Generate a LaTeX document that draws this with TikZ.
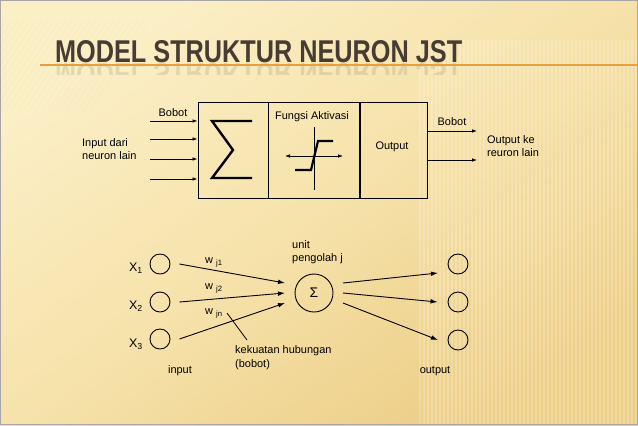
\documentclass[tikz,border=0pt]{standalone}
\usepackage{fontspec}
\setmainfont{Liberation Sans}
\usetikzlibrary{arrows.meta}
\definecolor{bgUL}{HTML}{FBEFC6}
\definecolor{bgMID}{HTML}{F6E2AA}
\definecolor{bgLR}{HTML}{ECCD86}
\definecolor{titlecol}{HTML}{463C33}
\definecolor{rulecol}{HTML}{E6A040}
\tikzset{
  lbl/.style={inner sep=0pt, font=\fontsize{11}{13.5}\selectfont, align=left},
  xlbl/.style={inner sep=0pt, font=\fontsize{12.5}{14}\selectfont},
  blk/.style={draw, line width=1bp, minimum height=96bp, inner sep=0pt},
  arr/.style={line width=0.8bp, -{Latex[length=5bp,width=3.6bp]}},
  arrb/.style={line width=0.9bp, -{Latex[length=7bp,width=4.6bp]}},
  neuron/.style={circle, draw, line width=0.9bp, minimum size=20bp, inner sep=0pt},
  glyph/.style={line width=2.4bp, line join=miter},
}
\begin{document}
\begin{tikzpicture}[x=1bp,y=-1bp]
\useasboundingbox (0,0) rectangle (638,425);
% background
\shade[top color=bgUL, bottom color=bgLR, middle color=bgMID, shading angle=35] (0,0) rectangle (638,425);
\foreach \x in {420,424,...,636}{
  \draw[white, opacity=0.22, line width=1.2bp] (\x,40) -- (\x,425);
}
\foreach \x in {-60,-54,...,90}{
  \draw[brown!40, opacity=0.12, line width=0.8bp] (\x,110) -- (\x+60,20);
}
\draw[gray!70, line width=1bp] (0.5,0.5) rectangle (637.5,424.5);
% title
\begin{scope}
  \clip (50,63) rectangle (470,74);
  \node[anchor=base west, inner sep=0pt, text=titlecol, opacity=0.13] (titlerefl) at (55,63)
    {\scalebox{1}[-1]{\resizebox{407bp}{22bp}{\bfseries MODEL STRUKTUR NEURON JST}}};
\end{scope}
\draw[rulecol, line width=1.4bp] (40,65) -- (638,65);
\node[anchor=base west, inner sep=0pt, text=titlecol] (title) at (55,62)
  {\resizebox{407bp}{22bp}{\bfseries MODEL STRUKTUR NEURON JST}};
% ---- block diagram ----
\node[blk, minimum width=70bp] (sumbox) at (233,150) {};
\node[blk, minimum width=92bp] (actbox) at (314,150) {};
\node[blk, minimum width=67bp] (outbox) at (393.5,150) {};
\draw[line width=1.8bp] (outbox.north west) -- (outbox.south west);
% sigma glyph
\draw[glyph] (252,121) -- (212,121) -- (233,150) -- (212,178) -- (252,178);
% activation glyph
\draw[line width=0.8bp] (314,127) -- (314,190);
\draw[line width=0.8bp, {Latex[length=5bp,width=3.6bp]}-{Latex[length=5bp,width=3.6bp]}] (285,156) -- (343,156);
\draw[line width=2.2bp] (295,170) -- (311,170) -- (318,141) -- (333,141);
% input arrows
\coordinate (i1) at (150,121);
\coordinate (i2) at (150,139);
\coordinate (i3) at (150,159);
\coordinate (i4) at (150,179);
\foreach \c in {i1,i2,i3,i4}{\draw[arr] (\c) -- (sumbox.west |- \c);}
% output arrows
\coordinate (o1) at (477,131);
\coordinate (o2) at (477,160);
\draw[arr] (outbox.east |- o1) -- (o1);
\draw[arr] (outbox.east |- o2) -- (o2);
% labels
\node[lbl] (bobot1) at (173,113) {Bobot};
\node[lbl] (fungsi) at (312,117) {Fungsi Aktivasi};
\node[lbl, anchor=west] (inlain) at (82,149) {Input dari\\neuron lain};
\node[lbl] (outlbl) at (392,147) {Output};
\node[lbl] (bobot2) at (452,122) {Bobot};
\node[lbl, anchor=west] (outlain) at (487,146) {Output ke\\reuron lain};
% ---- network ----
\node[neuron] (in1) at (160,264) {};
\node[neuron] (in2) at (160,302) {};
\node[neuron] (in3) at (160,339) {};
\node[circle, draw, line width=0.9bp, minimum size=38bp, inner sep=0pt,
      font=\fontsize{14}{14}\selectfont] (sum) at (314,293) {Σ};
\node[neuron] (out1) at (458,264) {};
\node[neuron] (out2) at (458,302) {};
\node[neuron] (out3) at (458,340) {};
\node[xlbl] (x1) at (136,268) {X\textsubscript{1}};
\node[xlbl] (x2) at (136,306) {X\textsubscript{2}};
\node[xlbl] (x3) at (136,344) {X\textsubscript{3}};
\coordinate (e1) at (285,283);
\coordinate (e2) at (285,293);
\coordinate (e3) at (285,303);
\draw[arrb] ([xshift=9bp]in1.east) -- (e1);
\draw[arrb] ([xshift=9bp]in2.east) -- (e2);
\draw[arrb] ([xshift=9bp]in3.east) -- (e3);
\coordinate (s1) at (343,283);
\coordinate (s2) at (343,293);
\coordinate (s3) at (343,303);
\coordinate (t1) at (438,273);
\coordinate (t3) at (438,340);
\draw[arrb] (s1) -- (t1);
\draw[arrb] (s2) -- ([xshift=-10bp]out2.west);
\draw[arrb] (s3) -- (t3);
\node[lbl, anchor=west] (w1) at (205,262) {w \textsubscript{j1}};
\node[lbl, anchor=west] (w2) at (205,288) {w \textsubscript{j2}};
\node[lbl, anchor=west] (w3) at (205,313) {w \textsubscript{jn}};
\node[lbl, anchor=west] (unit) at (292,252) {unit\\pengolah j};
\node[lbl, anchor=west] (kek) at (235,357.5) {kekuatan hubungan\\(bobot)};
\coordinate (m1) at (227,313);
\coordinate (m2) at (247,340);
\draw[line width=0.8bp] (m1) -- (m2);
\node[lbl] (inputlbl) at (180,371) {input};
\node[lbl] (outputlbl) at (435,371) {output};
\end{tikzpicture}
\end{document}
